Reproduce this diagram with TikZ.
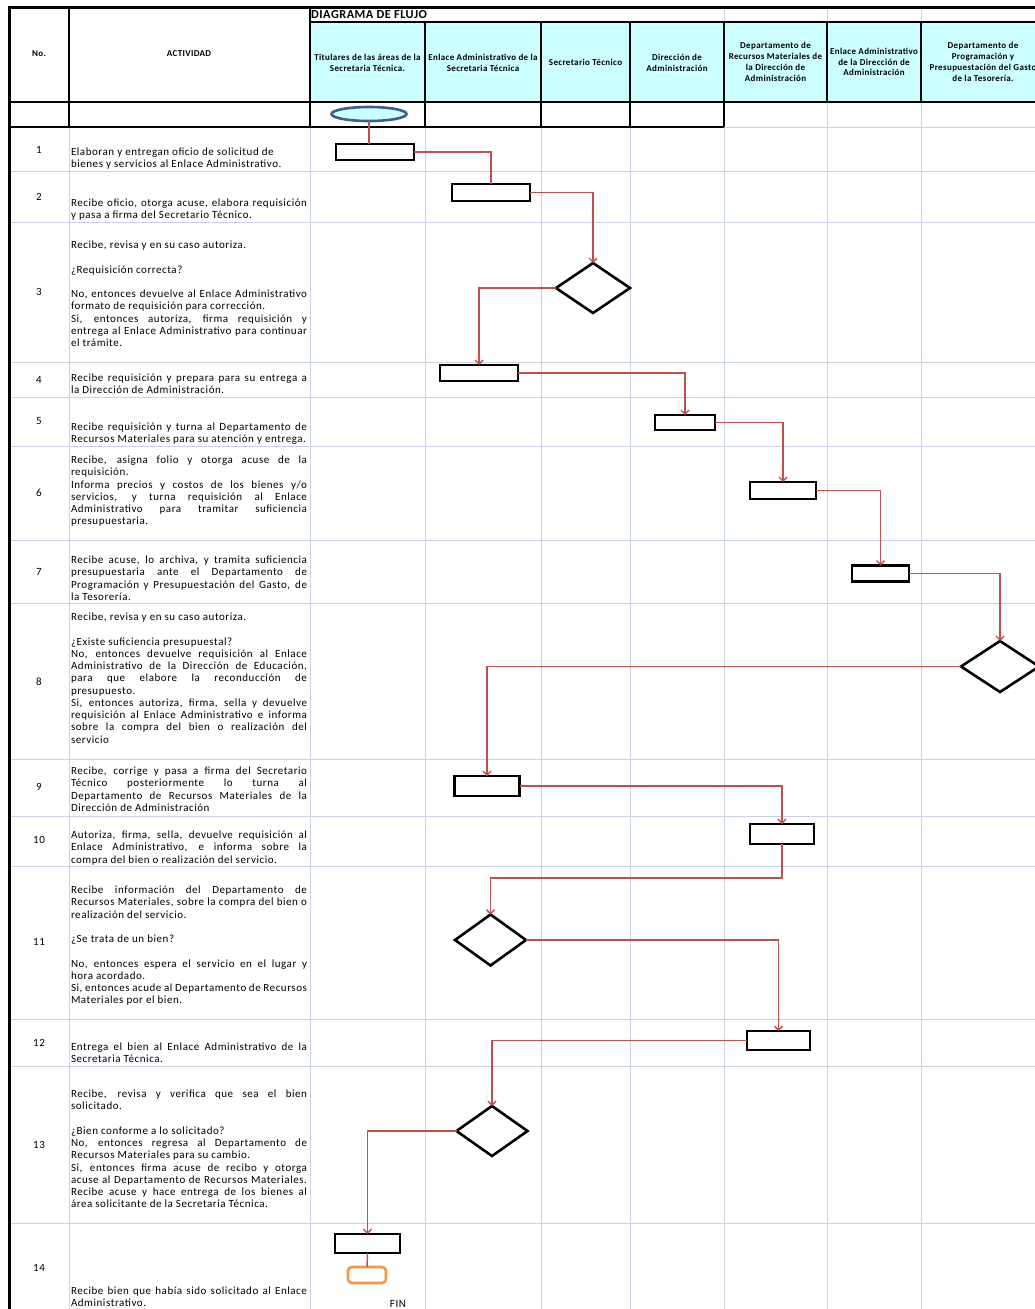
\documentclass[tikz,border=0pt]{standalone}
\usepackage{fontspec}
\setmainfont{Carlito}
\newfontfamily\actfont[LetterSpace=5]{Carlito}
\newfontfamily\hdrfont[LetterSpace=4]{Carlito}
\usetikzlibrary{arrows.meta,shapes.geometric}
\definecolor{cyanfill}{HTML}{CCFFFF}
\definecolor{gridc}{HTML}{C8D2E4}
\definecolor{conn}{HTML}{C0504D}
\definecolor{ellc}{HTML}{3B5E91}
\definecolor{orng}{HTML}{F79646}
\newcommand\jst[1]{\makebox[\linewidth][s]{#1}\par}
\newcommand\lft[1]{\makebox[\linewidth][l]{#1}\par}
\newcommand\acttext[1]{\parbox[t]{236pt}{\actfont\fontsize{11}{12.25}\selectfont #1}}
\begin{document}
\begin{tikzpicture}[x=1pt,y=-1pt,
  hdr/.style={align=center,font=\hdrfont\fontsize{9}{10.8}\selectfont\bfseries,inner sep=0},
  num/.style={font=\actfont\fontsize{11}{12}\selectfont,inner sep=0},
  act/.style={anchor=base west,inner sep=0,outer sep=0},
  gline/.style={draw=gridc,line width=1pt},
  bline/.style={draw=black,line width=1.2pt},
  proc/.style={draw=black,line width=2.6pt,fill=white,inner sep=0,outer sep=0},
  dec/.style={diamond,draw=black,line width=2.6pt,fill=white,inner sep=0,outer sep=0},
  conn/.style={draw=conn,line width=1.4pt},
  arr/.style={conn,-{Straight Barb[length=4pt,width=8pt]}}]
\useasboundingbox (0,0) rectangle (1034,1309);
\fill[white] (0,0) rectangle (1034,1309);
% header fill
\fill[cyanfill] (310,22) rectangle (1040,102);
% light grid
\foreach \yy in {171,222,362,397,446,540,603,759,816,866,1019,1066,1223}
  \draw[gline] (9,\yy) -- (1040,\yy);
\draw[gline] (724,127) -- (1040,127);
\foreach \xx in {69,310,425,541,630,724,827,921}
  \draw[gline] (\xx,127) -- (\xx,1312);
\foreach \xx in {724,827,921}
  \draw[gline] (\xx,7) -- (\xx,22);
\foreach \xx in {827,921}
  \draw[gline] (\xx,102) -- (\xx,127);
% black header lines
\draw[bline] (310,22) -- (1040,22);
\draw[bline] (9,102) -- (1040,102);
\draw[bline] (9,127) -- (724,127);
\foreach \xx in {69,310}
  \draw[bline] (\xx,7) -- (\xx,127);
\foreach \xx in {425,541,630,724}
  \draw[bline] (\xx,22) -- (\xx,127);
\foreach \xx in {827,921}
  \draw[bline] (\xx,22) -- (\xx,102);
\draw[draw=black,line width=3pt] (1040,7) -- (9,7) -- (9,1312);
% header texts
\node[hdr,anchor=west,font=\hdrfont\fontsize{12.3}{13}\selectfont\bfseries] (title) at (311,15) {DIAGRAMA DE FLUJO};
\node[hdr] (hno) at (39,54) {No.};
\node[hdr] (hact) at (189,54) {ACTIVIDAD};
\node[hdr] (h1) at (367.5,62.5) {Titulares de las áreas de la\\Secretaria Técnica.};
\node[hdr] (h2) at (483,62.5) {Enlace Administrativo de la\\Secretaria Técnica};
\node[hdr] (h3) at (585.5,62) {Secretario Técnico};
\node[hdr] (h4) at (677,62.5) {Dirección de\\Administración};
\node[hdr] (h5) at (775.5,62) {Departamento de\\Recursos Materiales de\\la Dirección de\\Administración};
\node[hdr] (h6) at (874,62) {Enlace Administrativo\\de la Dirección de\\Administración};
\node[hdr] (h7) at (983,62) {Departamento de\\Programación y\\Presupuestación del Gasto\\de la Tesorería.};
% numbers
\node[num] (n1) at (39,150) {1};
\node[num] (n2) at (39,197) {2};
\node[num] (n3) at (39,292) {3};
\node[num] (n4) at (39,380) {4};
\node[num] (n5) at (39,421) {5};
\node[num] (n6) at (39,493) {6};
\node[num] (n7) at (39,572) {7};
\node[num] (n8) at (39,682) {8};
\node[num] (n9) at (39,787) {9};
\node[num] (n10) at (39,840) {10};
\node[num] (n11) at (39,942) {11};
\node[num] (n12) at (39,1043) {12};
\node[num] (n13) at (39,1145) {13};
\node[num] (n14) at (39,1268) {14};
% activity texts
\node[act] (t1) at (71,155.5) {\acttext{\lft{Elaboran y entregan oficio de solicitud de}\lft{bienes y servicios al Enlace Administrativo.}}};
\node[act] (t2) at (71,206.5) {\acttext{\jst{Recibe oficio, otorga acuse, elabora requisición}\lft{y pasa a firma del Secretario Técnico.}}};
\node[act] (t3) at (71,248.5) {\acttext{\lft{Recibe, revisa y en su caso autoriza.}\lft{}\lft{¿Requisición correcta?}\lft{}\jst{No, entonces devuelve al Enlace Administrativo}\lft{formato de requisición para corrección.}\jst{Si, entonces autoriza, firma requisición y}\jst{entrega al Enlace Administrativo para continuar}\lft{el trámite.}}};
\node[act] (t4) at (71,381.5) {\acttext{\jst{Recibe requisición y prepara para su entrega a}\lft{la Dirección de Administración.}}};
\node[act] (t5) at (71,430.5) {\acttext{\jst{Recibe requisición y turna al Departamento de}\lft{Recursos Materiales para su atención y entrega.}}};
\node[act] (t6) at (71,463.5) {\acttext{\jst{Recibe, asigna folio y otorga acuse de la}\lft{requisición.}\jst{Informa precios y costos de los bienes y/o}\jst{servicios, y turna requisición al Enlace}\jst{Administrativo para tramitar suficiencia}\lft{presupuestaria.}}};
\node[act] (t7) at (71,563.5) {\acttext{\jst{Recibe acuse, lo archiva, y tramita suficiencia}\jst{presupuestaria ante el Departamento de}\jst{Programación y Presupuestación del Gasto, de}\lft{la Tesorería.}}};
\node[act] (t8) at (71,620.5) {\acttext{\lft{Recibe, revisa y en su caso autoriza.}\lft{}\lft{¿Existe suficiencia presupuestal?}\jst{No, entonces devuelve requisición al Enlace}\jst{Administrativo de la Dirección de Educación,}\jst{para que elabore la reconducción de}\lft{presupuesto.}\jst{Si, entonces autoriza, firma, sella y devuelve}\jst{requisición al Enlace Administrativo e informa}\jst{sobre la compra del bien o realización del}\lft{servicio}}};
\node[act] (t9) at (71,774.5) {\acttext{\jst{Recibe, corrige y pasa a firma del Secretario}\jst{Técnico posteriormente lo turna al}\jst{Departamento de Recursos Materiales de la}\lft{Dirección de Administración}}};
\node[act] (t10) at (71,838.5) {\acttext{\jst{Autoriza, firma, sella, devuelve requisición al}\jst{Enlace Administrativo, e informa sobre la}\lft{compra del bien o realización del servicio.}}};
\node[act] (t11) at (71,893.5) {\acttext{\jst{Recibe información del Departamento de}\jst{Recursos Materiales, sobre la compra del bien o}\lft{realización del servicio.}\lft{}\lft{¿Se trata de un bien?}\lft{}\jst{No, entonces espera el servicio en el lugar y}\lft{hora acordado.}\jst{Si, entonces acude al Departamento de Recursos}\lft{Materiales por el bien.}}};
\node[act] (t12) at (71,1050.5) {\acttext{\jst{Entrega el bien al Enlace Administrativo de la}\lft{Secretaria Técnica.}}};
\node[act] (t13) at (71,1097.5) {\acttext{\jst{Recibe, revisa y verifica que sea el bien}\lft{solicitado.}\lft{}\lft{¿Bien conforme a lo solicitado?}\jst{No, entonces regresa al Departamento de}\lft{Recursos Materiales para su cambio.}\jst{Si, entonces firma acuse de recibo y otorga}\jst{acuse al Departamento de Recursos Materiales.}\jst{Recibe acuse y hace entrega de los bienes al}\lft{área solicitante de la Secretaria Técnica.}}};
\node[act] (t14) at (71,1294.5) {\acttext{\jst{Recibe bien que había sido solicitado al Enlace}\lft{Administrativo.}}};
% flow shapes
\node[ellipse,draw=ellc,line width=2.6pt,fill=cyanfill,inner sep=0,outer sep=0,minimum width=75,minimum height=14] (e) at (369,114) {};
\node[proc,minimum width=78,minimum height=16] (b1) at (375,152) {};
\node[proc,minimum width=78,minimum height=17] (b2) at (491,192.5) {};
\node[dec,minimum width=74,minimum height=50] (d1) at (593,288) {};
\node[proc,minimum width=78,minimum height=16] (b3) at (479,373) {};
\node[proc,minimum width=60,minimum height=15] (b4) at (685,422.5) {};
\node[proc,minimum width=66,minimum height=17] (b5) at (783,490.5) {};
\node[proc,minimum width=57,minimum height=16] (b6) at (880.5,573.5) {};
\node[dec,minimum width=78,minimum height=51] (d2) at (1000,666.5) {};
\node[proc,minimum width=65,minimum height=20] (b7) at (487,786) {};
\node[proc,minimum width=64,minimum height=20] (b8) at (782,834) {};
\node[dec,minimum width=71,minimum height=51] (d3) at (490.5,940) {};
\node[proc,minimum width=63,minimum height=19] (b9) at (778.5,1040.5) {};
\node[dec,minimum width=71,minimum height=50] (d4) at (492,1131) {};
\node[proc,minimum width=65,minimum height=19] (b10) at (367.5,1243.5) {};
\node[draw=orng,line width=2.6pt,fill=white,rounded corners=4pt,inner sep=0,outer sep=0,minimum width=38,minimum height=16] (fin) at (367,1275) {};
\node[num,anchor=base] (fintxt) at (398,1307) {FIN};
% connectors
\draw[conn] (e.south) -- (e.south |- b1.north);
\draw[conn] (b1.east) -| (b2.north);
\draw[arr] (b2.east) -| (d1.north);
\draw[arr] (d1.west) -| (b3.north);
\draw[arr] (b3.east) -| (b4.north);
\draw[arr] (b4.east) -| (b5.north);
\draw[arr] (b5.east) -| (b6.north);
\draw[arr] (b6.east) -| (d2.north);
\draw[arr] (d2.west) -| (b7.north);
\draw[arr] (b7.east) -| (b8.north);
\draw[arr] (b8.south) -- ++(0,34) -| (d3.north);
\draw[arr] (d3.east) -| (b9.north);
\draw[arr] (b9.west) -| (d4.north);
\draw[arr] (d4.west) -| (b10.north);
\draw[conn] (b10.south) -- (fin.north);
\end{tikzpicture}
\end{document}
